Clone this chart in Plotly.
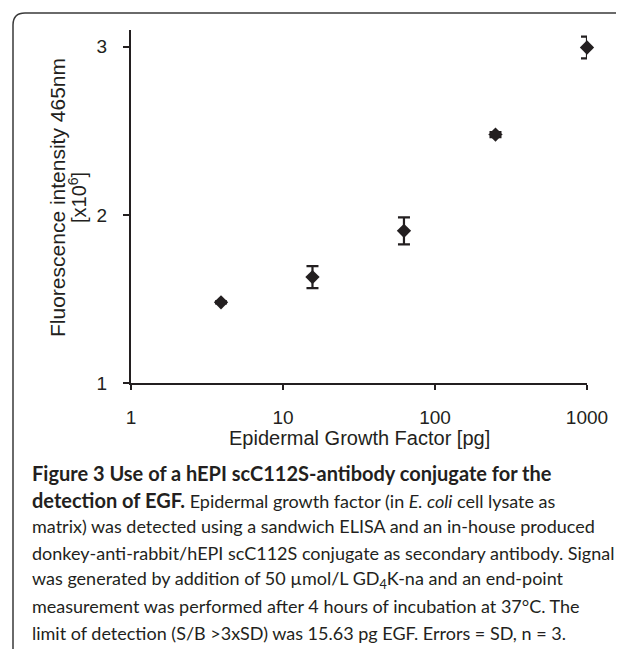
import plotly.graph_objects as go

# ---- data ----
egf_pg = [3.91, 15.63, 62.5, 250, 1000]
fluorescence = [1.48, 1.63, 1.905, 2.478, 2.996]
sd = [0.006, 0.065, 0.08, 0.015, 0.065]

x_ticks = [1, 10, 100, 1000]
x_tick_labels = ["1", "10", "100", "1000"]
y_ticks = [1, 2, 3]
y_tick_labels = ["1", "2", "3"]

x_title = "Epidermal Growth Factor [pg]"
y_title_1 = "Fluorescence intensity 465nm"
y_title_2 = "[x10<sup>6</sup>]"

BOLD = '<b><span style="font-size:20px">{}</span></b>'
caption_lines = [
    BOLD.format("Figure 3 Use of a hEPI scC112S-antibody conjugate for the"),
    BOLD.format("detection of EGF.") + " Epidermal growth factor (in <i>E. coli</i> cell lysate as",
    "matrix) was detected using a sandwich ELISA and an in-house produced",
    "donkey-anti-rabbit/hEPI scC112S conjugate as secondary antibody. Signal",
    "was generated by addition of 50 µmol/L GD<sub>4</sub>K-na and an end-point",
    "measurement was performed after 4 hours of incubation at 37°C. The",
    "limit of detection (S/B &gt;3xSD) was 15.63 pg EGF. Errors = SD, n = 3.",
]

# ---- layout geometry ----
# the page body has an 8px margin, so the figure starts at screen (8, 8)
OFF = 8
W, H = 624 - OFF, 649 - OFF
PLOT_X0, PLOT_X1, PLOT_Y0, PLOT_Y1 = 131, 587, 30, 383   # screen px
L, R = PLOT_X0 - OFF, W - (PLOT_X1 - OFF)
T, B = PLOT_Y0 - OFF, H - (PLOT_Y1 - OFF)
PW, PH = PLOT_X1 - PLOT_X0, PLOT_Y1 - PLOT_Y0
DARK = "#231f20"


def px_x(sx):
    return (sx - PLOT_X0) / PW


def px_y(sy):
    return (PLOT_Y1 - sy) / PH


fig = go.Figure()
fig.add_trace(go.Scatter(
    x=egf_pg, y=fluorescence, mode="markers",
    marker=dict(symbol="diamond", size=11, color=DARK),
    error_y=dict(type="data", array=sd, visible=True, thickness=2.2, width=6, color=DARK),
    cliponaxis=False, showlegend=False,
))

axis_font = dict(family="Liberation Sans, Arial, sans-serif", size=19, color=DARK)

fig.update_layout(
    width=W, height=H,
    margin=dict(l=L, r=R, t=T, b=B, pad=0),
    paper_bgcolor="white", plot_bgcolor="white",
    xaxis=dict(
        type="log", range=[0, 3], tickvals=x_ticks, ticktext=x_tick_labels,
        showline=True, linecolor=DARK, linewidth=2, showgrid=False, zeroline=False,
        ticks="outside", ticklen=5, tickwidth=2, tickcolor=DARK,
        tickfont=axis_font, ticklabelstandoff=11,
    ),
    yaxis=dict(
        range=[1, 3.1], tickvals=y_ticks, ticktext=y_tick_labels,
        showline=True, linecolor=DARK, linewidth=2, showgrid=False, zeroline=False,
        ticks="outside", ticklen=6, tickwidth=2, tickcolor=DARK,
        tickfont=axis_font, ticklabelstandoff=12,
    ),
)

title_font = dict(family="Liberation Sans, Arial, sans-serif", size=20, color=DARK)
# axis titles
fig.add_annotation(text=x_title, xref="paper", yref="paper", x=px_x(359), y=px_y(438),
                   showarrow=False, xanchor="center", yanchor="middle", font=title_font)
fig.add_annotation(text=y_title_1, xref="paper", yref="paper", x=px_x(57), y=px_y(198),
                   showarrow=False, textangle=-90, xanchor="center", yanchor="middle",
                   font=dict(family="Liberation Sans, Arial, sans-serif", size=21, color=DARK))
fig.add_annotation(text=y_title_2, xref="paper", yref="paper", x=px_x(77), y=px_y(198),
                   showarrow=False, textangle=-90, xanchor="center", yanchor="middle",
                   font=dict(family="Liberation Sans, Arial, sans-serif", size=20, color=DARK))

# caption
cap_font = dict(family="Lato, Roboto, sans-serif", size=18, color=DARK)
first_mid, step = 473, 26.6
for i, line in enumerate(caption_lines):
    fig.add_annotation(text=line, xref="paper", yref="paper", x=px_x(30), y=px_y(first_mid + i * step),
                       showarrow=False, xanchor="left", yanchor="middle", align="left",
                       font=cap_font)

# rounded border (right and bottom cut off by the picture edge)
bx, by, r = 13, 13, 12
path = (f"M {px_x(bx)},{px_y(660)} L {px_x(bx)},{px_y(by + r)} "
        f"Q {px_x(bx)},{px_y(by)} {px_x(bx + r)},{px_y(by)} L {px_x(640)},{px_y(by)}")
fig.add_shape(type="path", path=path, xref="paper", yref="paper",
              line=dict(color="#3a3a3a", width=1.5))

fig.write_html("out.html")
